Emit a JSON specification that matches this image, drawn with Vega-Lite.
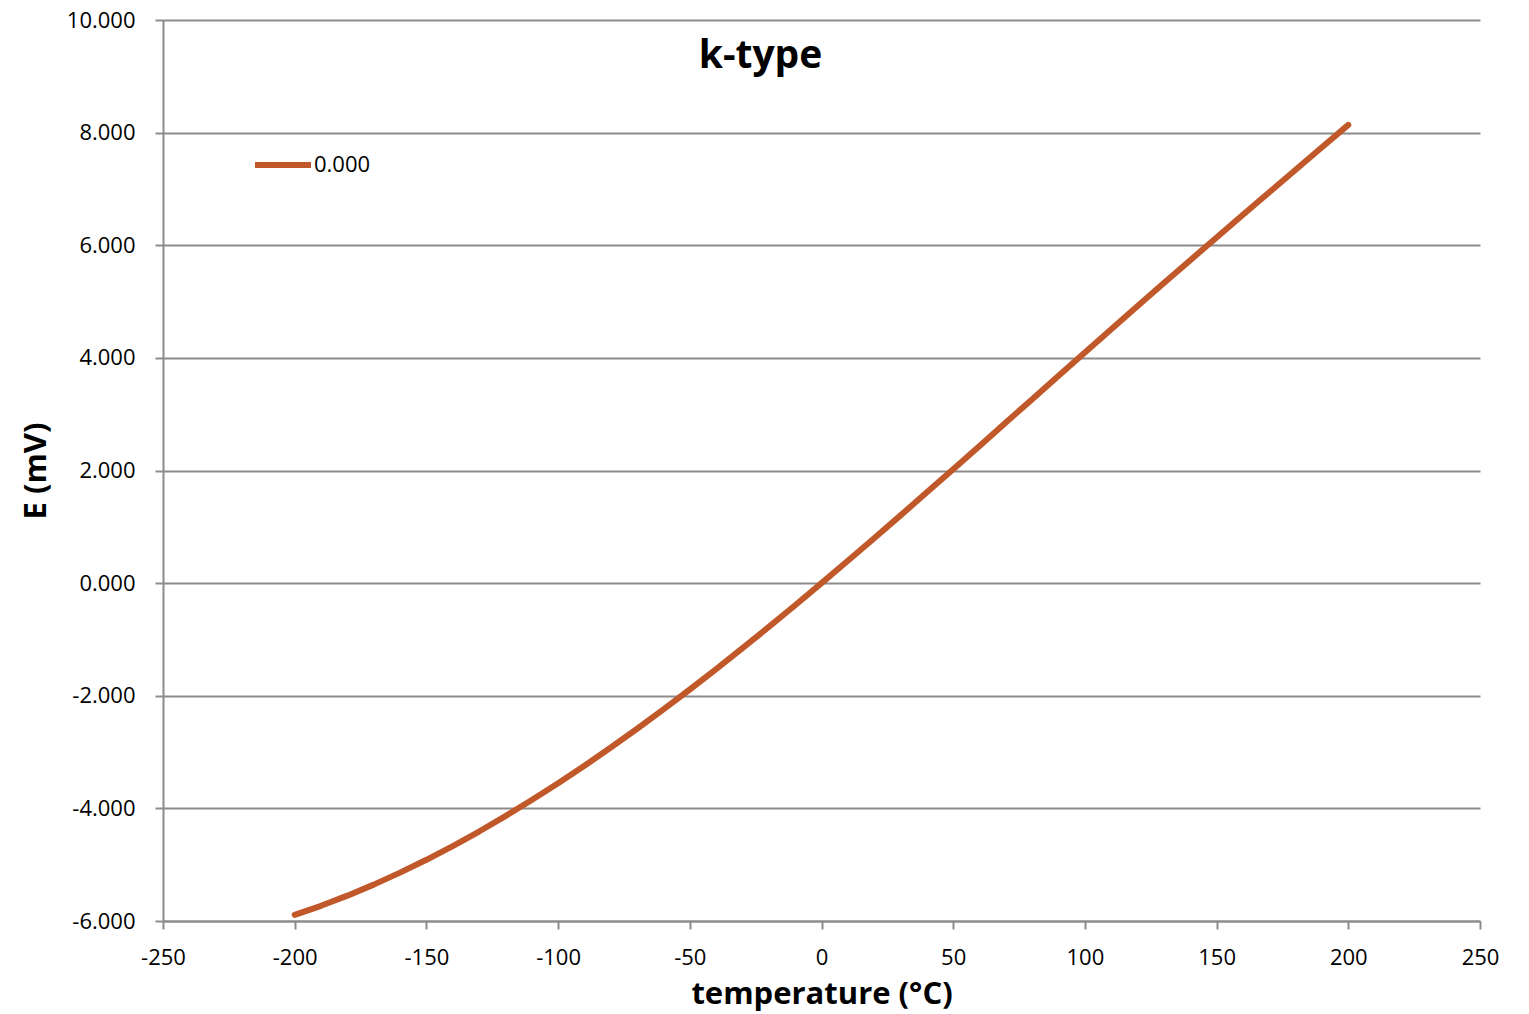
{
  "$schema": "https://vega.github.io/schema/vega-lite/v6.json",
  "autosize": {"type": "none"},
  "width": 1317,
  "height": 901,
  "padding": {"left": 163, "top": 20, "right": 49, "bottom": 93},
  "background": "white",
  "config": {
    "view": {"stroke": null},
    "font": "Open Sans"
  },
  "title": {
    "text": "k-type",
    "fontSize": 39,
    "fontWeight": "bold",
    "font": "Open Sans",
    "color": "#000000",
    "anchor": "middle",
    "dx": -61,
    "offset": -67
  },
  "data": {
    "values": [
      {"t": -200, "e": -5.891}, {"t": -190, "e": -5.730}, {"t": -180, "e": -5.550},
      {"t": -170, "e": -5.354}, {"t": -160, "e": -5.141}, {"t": -150, "e": -4.913},
      {"t": -140, "e": -4.669}, {"t": -130, "e": -4.411}, {"t": -120, "e": -4.138},
      {"t": -110, "e": -3.852}, {"t": -100, "e": -3.554}, {"t": -90, "e": -3.243},
      {"t": -80, "e": -2.920}, {"t": -70, "e": -2.587}, {"t": -60, "e": -2.243},
      {"t": -50, "e": -1.889}, {"t": -40, "e": -1.527}, {"t": -30, "e": -1.156},
      {"t": -20, "e": -0.778}, {"t": -10, "e": -0.392}, {"t": 0, "e": 0.000},
      {"t": 10, "e": 0.397}, {"t": 20, "e": 0.798}, {"t": 30, "e": 1.203},
      {"t": 40, "e": 1.612}, {"t": 50, "e": 2.023}, {"t": 60, "e": 2.436},
      {"t": 70, "e": 2.851}, {"t": 80, "e": 3.267}, {"t": 90, "e": 3.682},
      {"t": 100, "e": 4.096}, {"t": 110, "e": 4.509}, {"t": 120, "e": 4.920},
      {"t": 130, "e": 5.328}, {"t": 140, "e": 5.735}, {"t": 150, "e": 6.138},
      {"t": 160, "e": 6.540}, {"t": 170, "e": 6.941}, {"t": 180, "e": 7.340},
      {"t": 190, "e": 7.739}, {"t": 200, "e": 8.138}
    ]
  },
  "mark": {"type": "line", "strokeWidth": 6, "strokeCap": "round", "strokeJoin": "round"},
  "encoding": {
    "x": {
      "field": "t",
      "type": "quantitative",
      "scale": {"domain": [-250, 250], "nice": false, "zero": false},
      "axis": {
        "values": [-250, -200, -150, -100, -50, 0, 50, 100, 150, 200, 250],
        "labelExpr": "replace(datum.label, '−', '-')",
        "title": "temperature (°C)",
        "titleFontSize": 31,
        "titleFontWeight": "bold",
        "titleColor": "#000000",
        "titlePadding": 11,
        "labelFontSize": 22,
        "labelColor": "#000000",
        "labelPadding": 18,
        "labelFlush": false,
        "grid": false,
        "domainColor": "#8c8c8c",
        "domainWidth": 2,
        "tickColor": "#8c8c8c",
        "tickWidth": 2,
        "tickSize": 8
      }
    },
    "y": {
      "field": "e",
      "type": "quantitative",
      "scale": {"domain": [-6, 10], "nice": false, "zero": false},
      "axis": {
        "values": [-6, -4, -2, 0, 2, 4, 6, 8, 10],
        "format": ".3f",
        "labelExpr": "replace(datum.label, '−', '-')",
        "title": "E (mV)",
        "titleFontSize": 31,
        "titleFontWeight": "bold",
        "titleColor": "#000000",
        "titlePadding": 14,
        "labelFontSize": 22,
        "labelColor": "#000000",
        "labelPadding": 20,
        "labelFlush": false,
        "grid": true,
        "gridColor": "#8c8c8c",
        "gridWidth": 2,
        "domainColor": "#8c8c8c",
        "domainWidth": 2,
        "tickColor": "#8c8c8c",
        "tickWidth": 2,
        "tickSize": 8
      }
    },
    "color": {
      "datum": "0.000",
      "type": "nominal",
      "scale": {"range": ["#C0582A"]},
      "legend": {
        "title": null,
        "orient": "none",
        "legendX": 89,
        "legendY": 114,
        "symbolType": "stroke",
        "symbolStrokeWidth": 6,
        "symbolSize": 3136,
        "labelFontSize": 22,
        "labelColor": "#000000",
        "labelOffset": 0
      }
    }
  }
}
